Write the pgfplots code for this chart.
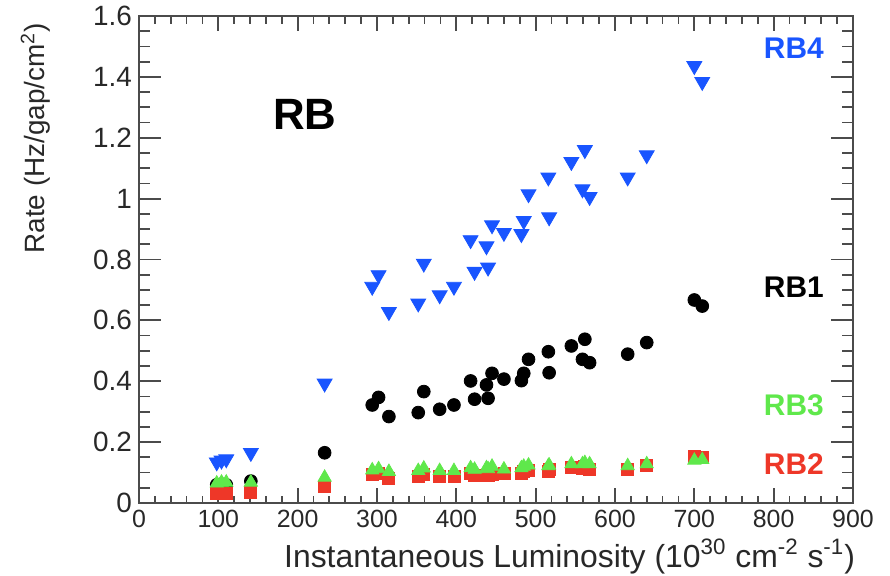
\documentclass[border=0pt]{standalone}
\usepackage{fontspec}
\setmainfont{Liberation Sans}
\usepackage{pgfplots}
\usepackage{pgfplotstable}
\pgfplotsset{compat=1.18}
\definecolor{rbblue}{RGB}{25,85,255}
\definecolor{rbred}{RGB}{238,55,40}
\definecolor{rbgreen}{RGB}{95,232,75}
\definecolor{axgray}{RGB}{75,75,75}
\definecolor{txtgray}{RGB}{40,40,40}

\pgfplotstableread{
x    rbone  rbtwo  rbthree rbfour
98   0.060  0.030  0.065   0.134
104  0.062  0.032  0.068   0.140
110  0.060  0.032  0.068   0.144
141  0.072  0.035  0.068   0.165
234  0.165  0.054  0.084   0.393
294  0.322  0.095  0.108   0.711
302  0.347  0.098  0.112   0.749
315  0.284  0.081  0.103   0.628
352  0.297  0.088  0.106   0.656
359  0.366  0.095  0.114   0.787
379  0.308  0.086  0.106   0.683
397  0.322  0.086  0.106   0.711
418  0.401  0.097  0.115   0.864
423  0.341  0.090  0.110   0.760
438  0.388  0.092  0.115   0.844
440  0.344  0.090  0.112   0.774
445  0.426  0.095  0.120   0.913
460  0.407  0.098  0.111   0.888
482  0.402  0.098  0.115   0.884
485  0.426  0.104  0.120   0.927
491  0.472  0.108  0.124   1.015
516  0.497  0.105  0.122   1.070
517  0.428  0.110  0.124   0.939
545  0.516  0.118  0.128   1.121
559  0.472  0.115  0.128   1.031
562  0.538  0.120  0.132   1.160
568  0.461  0.112  0.128   1.006
616  0.489  0.112  0.122   1.070
640  0.527  0.125  0.128   1.143
700  0.667  0.152  0.140   1.436
710  0.647  0.150  0.142   1.384
}\datatable

\pgfplotsset{
  rootax/.style={
    scale only axis, width=357bp, height=243.5bp,
    xmin=0, xmax=900, ymin=0, ymax=1.6,
    axis line style={axgray, line width=1bp},
    every tick/.style={axgray, line width=0.9bp},
    tick align=inside,
    /pgf/number format/assume math mode=true,
    tick label style={text=txtgray},
  }
}

\begin{document}
\begin{tikzpicture}
% x ticks axis
\begin{axis}[rootax,
  xtick={0,100,200,300,400,500,600,700,800,900},
  minor x tick num=4,
  ytick=\empty,
  major tick length=7.5bp, minor tick length=3.75bp,
  xticklabel style={font=\fontsize{12.5}{14}\selectfont},
  xlabel={Instantaneous Luminosity (10\textsuperscript{30} cm\textsuperscript{-2} s\textsuperscript{-1})},
  xlabel style={font=\fontsize{16}{19}\selectfont, text=txtgray, at={(axis description cs:1.0126,-0.132)}, anchor=base east},
]
\end{axis}
% y ticks axis + data
\begin{axis}[rootax,
  ytick={0,0.2,0.4,0.6,0.8,1,1.2,1.4,1.6},
  minor y tick num=3,
  xtick=\empty,
  major tick length=11bp, minor tick length=5.5bp,
  yticklabel style={font=\fontsize{14}{16}\selectfont},
  ylabel={Rate (Hz/gap/cm\textsuperscript{2})},
  ylabel style={font=\fontsize{14}{17}\selectfont, text=txtgray, at={(axis description cs:-0.132,1.0)}, anchor=base east},
]
\addplot[only marks, mark=*, mark size=3.2bp, color=black] table[x=x, y=rbone] {\datatable};
\addplot[only marks, mark=square*, mark size=3bp, color=rbred] table[x=x, y=rbtwo] {\datatable};
\addplot[only marks, mark=triangle*, mark size=3.8bp, color=rbgreen] table[x=x, y=rbthree] {\datatable};
\addplot[only marks, mark=triangle*, mark size=4.3bp, color=rbblue, mark options={rotate=180}] table[x=x, y=rbfour] {\datatable};
\node[font=\bfseries\fontsize{22}{26}\selectfont, text=black] at (axis cs:209,1.275) {RB};
\node[font=\bfseries\fontsize{15}{18}\selectfont, text=rbblue, anchor=east] at (axis cs:872,1.495) {RB4};
\node[font=\bfseries\fontsize{15}{18}\selectfont, text=black, anchor=east] at (axis cs:872,0.71) {RB1};
\node[font=\bfseries\fontsize{15}{18}\selectfont, text=rbgreen, anchor=east] at (axis cs:872,0.322) {RB3};
\node[font=\bfseries\fontsize{15}{18}\selectfont, text=rbred, anchor=east] at (axis cs:872,0.128) {RB2};
\end{axis}
\pgfresetboundingbox
\path (-69.5bp,-36.5bp) rectangle (375.5bp,251.5bp);
\end{tikzpicture}
\end{document}
